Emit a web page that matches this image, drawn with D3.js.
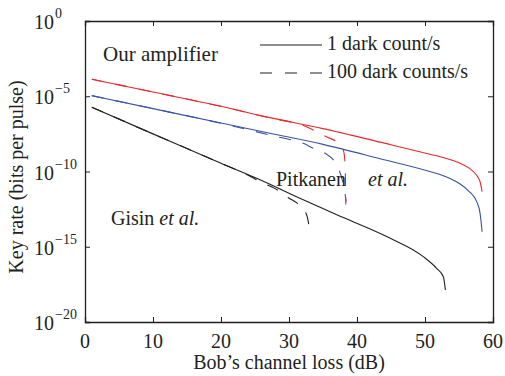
<!DOCTYPE html>
<html>
<head>
<meta charset="utf-8">
<script src="https://cdn.jsdelivr.net/npm/d3@7"></script>
<style>
  body { margin: 0; background: #fff; }
  svg text { font-family: "Liberation Serif", "DejaVu Serif", serif; fill: #231f20; }
</style>
</head>
<body>
<div id="chart-area"></div>
<script>
// channel loss (dB) and log10 of key rate
const redSolidLoss = [1, 10, 20, 27.2, 35, 43.4, 50.7, 53, 55, 56.5, 57.5, 58.1, 58.4];
const redSolidExp  = [-3.87, -4.72, -5.67, -6.42, -7.15, -8.05, -8.85, -9.12, -9.42, -9.78, -10.2, -10.68, -11.34];

const blueSolidLoss = [1, 10, 20, 27.2, 35, 43.4, 50.7, 53, 55, 56.5, 57.6, 58.1, 58.4];
const blueSolidExp  = [-4.96, -5.82, -6.78, -7.46, -8.2, -9.15, -10.0, -10.33, -10.78, -11.33, -12.0, -12.78, -14.0];

const blackSolidLoss = [1, 10, 20, 25.5, 31.6, 38, 44.9, 49.75, 51.7, 52.7, 53.0];
const blackSolidExp  = [-5.73, -7.5, -9.45, -10.5, -11.78, -13.06, -14.44, -15.66, -16.43, -16.99, -17.87];

const redDashLoss = [1, 10, 20, 27.2, 31.9, 33.8, 35.5, 37.25, 38.0, 38.2, 38.3, 38.35];
const redDashExp  = [-3.87, -4.72, -5.67, -6.45, -6.91, -7.29, -7.69, -8.13, -8.6, -9.2, -10.5, -12.2];

const blueDashLoss = [1, 10, 20, 28.2, 32.1, 33.6, 35.3, 36.8, 37.9, 38.1, 38.4];
const blueDashExp  = [-4.96, -5.82, -6.8, -7.69, -8.13, -8.46, -8.79, -9.42, -10.68, -11.1, -12.0];

const blackDashLoss = [1, 10, 20, 24, 26.2, 27.9, 29.9, 31.4, 32.6, 33.0];
const blackDashExp  = [-5.73, -7.5, -9.45, -10.25, -10.78, -11.12, -11.74, -12.18, -12.89, -13.77];

const xTicks = [0, 10, 20, 30, 40, 50, 60];
const yTickExp = [0, -5, -10, -15, -20];

const svgWidth = 505;
const svgHeight = 376;
const margin = { top: 21, right: 12, bottom: 54, left: 85 };
const width = svgWidth - margin.left - margin.right;
const height = svgHeight - margin.top - margin.bottom;

const serif = "Liberation Serif";
const red = "#e8262b";
const blue = "#3953a4";
const black = "#231f20";

const svg = d3.select("#chart-area")
              .append("svg")
              .attr("width", svgWidth)
              .attr("height", svgHeight)
              .attr("font-family", serif);

const g = svg.append("g")
             .attr("transform", `translate(${margin.left}, ${margin.top})`);

const x = d3.scaleLinear()
            .domain([0, 60])
            .range([0, width]);

const y = d3.scaleLog()
            .domain([1e-20, 1])
            .range([height, 0]);

const yTicks = yTickExp.map(e => Math.pow(10, e));

// axes: ticks point inward, box on all sides
g.append("g")
 .attr("transform", `translate(0, ${height})`)
 .call(d3.axisBottom(x).tickValues(xTicks).tickSize(-5).tickFormat(""));
g.append("g")
 .call(d3.axisTop(x).tickValues(xTicks).tickSize(-5).tickFormat(""));
g.append("g")
 .call(d3.axisLeft(y).tickValues(yTicks).tickSize(-5).tickFormat(""));
g.append("g")
 .attr("transform", `translate(${width}, 0)`)
 .call(d3.axisRight(y).tickValues(yTicks).tickSize(-5).tickFormat(""));

g.selectAll(".domain").attr("stroke", black).attr("stroke-width", 1.3);
g.selectAll(".tick line").attr("stroke", black);

// tick labels
g.selectAll(".x-lab")
 .data(xTicks)
 .enter()
 .append("text")
   .attr("x", d => x(d))
   .attr("y", height + 26)
   .attr("text-anchor", "middle")
   .attr("font-family", serif)
   .style("font-size", "20px")
   .text(d => d);

const yl = g.selectAll(".y-lab")
            .data(yTickExp)
            .enter()
            .append("g")
            .attr("transform", d => `translate(0, ${y(Math.pow(10, d))})`);
yl.append("text")
  .attr("x", -31)
  .attr("y", 8)
  .attr("text-anchor", "end")
  .attr("font-family", serif)
  .style("font-size", "20px")
  .text("10");
yl.append("text")
  .attr("x", -30)
  .attr("y", -3)
  .attr("font-family", serif)
  .style("font-size", "14px")
  .text(d => d === 0 ? "0" : "\u2212" + (-d));

// axis titles
g.append("text")
 .attr("x", width / 2)
 .attr("y", height + 47)
 .attr("text-anchor", "middle")
 .attr("font-family", serif)
 .style("font-size", "20px")
 .text("Bob\u2019s channel loss (dB)");

g.append("text")
 .attr("transform", "rotate(-90)")
 .attr("x", -156)
 .attr("y", -62)
 .attr("text-anchor", "middle")
 .attr("font-family", serif)
 .style("font-size", "20px")
 .text("Key rate (bits per pulse)");

// curves
const line = d3.line()
               .x(d => x(d[0]))
               .y(d => y(d[1]))
               .curve(d3.curveMonotoneX);

const series = [
  { loss: blackDashLoss, exp: blackDashExp, color: black, dash: "12,12" },
  { loss: blueDashLoss, exp: blueDashExp, color: blue, dash: "12,12" },
  { loss: redDashLoss, exp: redDashExp, color: red, dash: "12,12" },
  { loss: blackSolidLoss, exp: blackSolidExp, color: black, dash: null },
  { loss: blueSolidLoss, exp: blueSolidExp, color: blue, dash: null },
  { loss: redSolidLoss, exp: redSolidExp, color: red, dash: null }
];

g.selectAll(".curve")
 .data(series)
 .enter()
 .append("path")
   .attr("d", s => line(s.loss.map((l, i) => [l, Math.pow(10, s.exp[i])])))
   .attr("fill", "none")
   .attr("stroke", s => s.color)
   .attr("stroke-width", 1.1)
   .attr("stroke-dasharray", s => s.dash);

// legend
svg.append("line")
   .attr("x1", 260).attr("x2", 322).attr("y1", 45).attr("y2", 45)
   .attr("stroke", black).attr("stroke-width", 1.1);
svg.append("line")
   .attr("x1", 260).attr("x2", 322).attr("y1", 73).attr("y2", 73)
   .attr("stroke", black).attr("stroke-width", 1.1)
   .attr("stroke-dasharray", "12,13");
svg.append("text")
   .attr("x", 327).attr("y", 50)
   .attr("font-family", serif)
   .style("font-size", "20px")
   .text("1 dark count/s");
svg.append("text")
   .attr("x", 327).attr("y", 77.5)
   .attr("font-family", serif)
   .style("font-size", "20px")
   .text("100 dark counts/s");

// annotations
svg.append("text")
   .attr("x", 103).attr("y", 61)
   .attr("font-family", serif)
   .style("font-size", "21px")
   .text("Our amplifier");

const pit = svg.append("text")
               .attr("x", 276).attr("y", 186)
               .attr("font-family", serif)
               .style("font-size", "20px");
pit.append("tspan").text("Pitkanen");
pit.append("tspan").attr("x", 368).style("font-style", "italic").text("et al.");

const gis = svg.append("text")
               .attr("x", 111).attr("y", 225)
               .attr("font-family", serif)
               .style("font-size", "20px");
gis.append("tspan").text("Gisin ");
gis.append("tspan").style("font-style", "italic").text("et al.");
</script>
</body>
</html>
